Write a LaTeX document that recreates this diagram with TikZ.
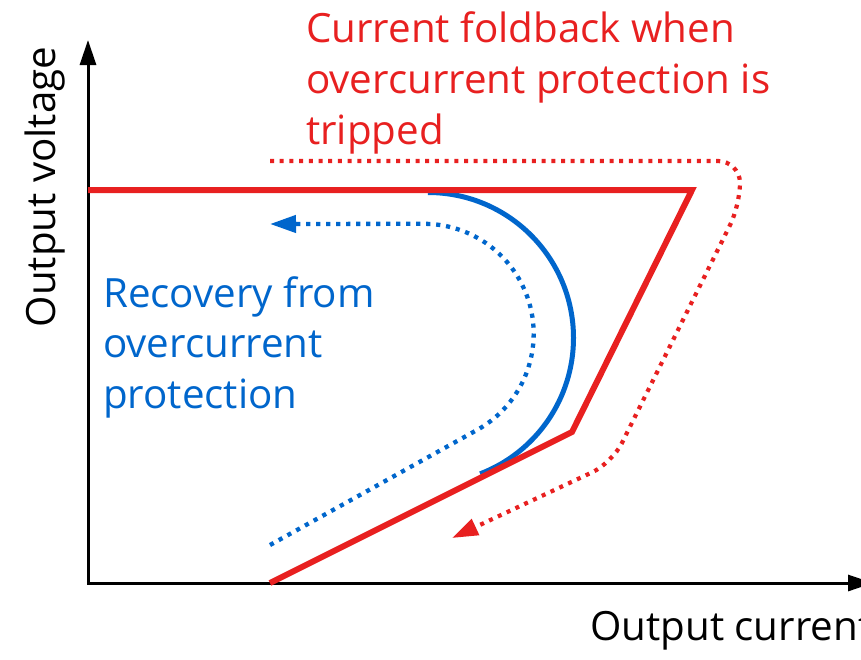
\documentclass[tikz,border=0pt]{standalone}
\usepackage{fontspec}
\setmainfont{Open Sans}
\usetikzlibrary{arrows.meta}
\definecolor{fred}{HTML}{E82020}
\definecolor{fblue}{HTML}{0066CC}
\begin{document}
\begin{tikzpicture}[x=1pt,y=-1pt,
  axis/.style={line width=3pt, {Triangle[length=25pt,width=16pt]}-{Triangle[length=25pt,width=16pt]}},
  curveR/.style={fred, line width=6pt},
  curveB/.style={fblue, line width=5pt},
  dotR/.style={fred, line width=4.2pt, dash pattern=on 4pt off 5.7pt, -{Triangle[length=26pt,width=17pt]}},
  dotB/.style={fblue, line width=4.3pt, dash pattern=on 4.2pt off 5.8pt, -{Triangle[length=26pt,width=17pt]}},
  lbl/.style={inner sep=0pt, anchor=base west, font=\fontsize{40.3}{48}\selectfont},
]
\useasboundingbox (0,0) rectangle (861,659);
\fill[white] (0,0) rectangle (861,659);
% axes
\coordinate (O) at (88,583);
\coordinate (Ytip) at (88,40);
\coordinate (Xtip) at (873,583);
\draw[axis] (Ytip) -- (O) -- (Xtip);
% blue recovery arc
\draw[curveB] (428,192.5) arc[start angle=-90, end angle=69, radius=145.5];
% red V-I curve
\draw[curveR, line join=miter] (88,190) -- (692,190) -- (572,432) -- (270,583);
% blue dotted recovery path
\draw[dotB] (270,545) -- (477,430) arc[start angle=61, end angle=-90, radius=110] -- (270,224);
% red dotted foldback path
\draw[dotR] (270,161) [rounded corners=22pt] -- (740,161) -- (740,205) -- (612,463) [rounded corners=6pt] -- (452,538);
% labels
\node[lbl, fred] (t1) at (306,42) {Current foldback when};
\node[lbl, fred] (t2) at (306,93) {overcurrent protection is};
\node[lbl, fred] (t3) at (306,144) {tripped};
\node[lbl, fblue] (b1) at (103,307) {Recovery from};
\node[lbl, fblue] (b2) at (103,357) {overcurrent};
\node[lbl, fblue] (b3) at (103,408) {protection};
\node[lbl, rotate=90, anchor=base] (yl) at (55,187) {Output voltage};
\node[lbl] (xl) at (590,640) {Output current};
\end{tikzpicture}
\end{document}
